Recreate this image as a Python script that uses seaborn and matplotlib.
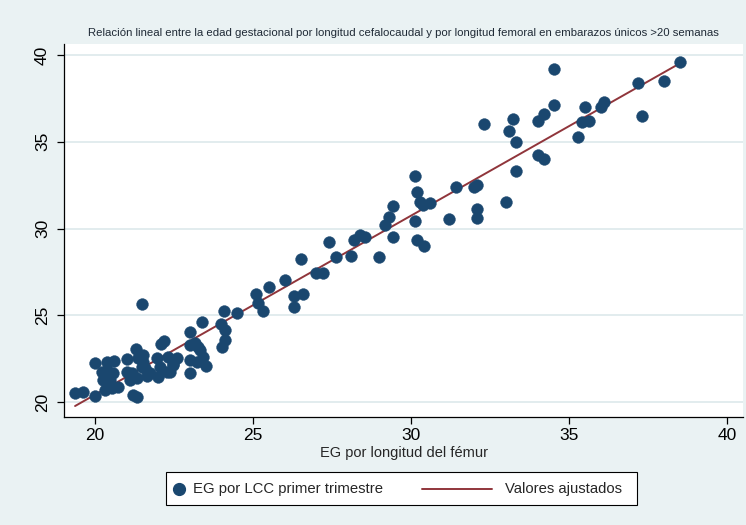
import numpy as np
import pandas as pd
import seaborn as sns
import matplotlib
matplotlib.use("Agg")
import matplotlib.pyplot as plt
from matplotlib.patches import Rectangle
from matplotlib.lines import Line2D

# Gestational age by femur length (x) vs. by crown-rump length (y), weeks
eg_femur = [
    19.37, 19.61, 20.00, 20.32, 20.53, 20.74, 20.26, 20.21, 20.47, 20.58,
    20.37, 20.00, 20.37, 20.60, 21.00, 21.37, 21.53, 21.58, 21.00, 21.11,
    21.32, 21.64, 21.16, 21.48, 21.74, 22.00, 22.06, 22.27, 22.48, 22.58,
    22.32, 21.95, 21.53, 21.31, 22.08, 22.18, 21.50, 21.19, 21.34,
    23.00, 23.40, 23.00, 23.16, 23.27, 23.32, 23.00, 23.22, 23.43, 23.51,
    23.00, 22.48, 22.37, 23.98, 24.11, 24.11, 24.01, 24.09, 24.50,
    25.09, 25.17, 25.30, 25.52,
    26.01, 26.30, 26.59, 26.30, 26.51, 26.99, 27.20, 27.41, 27.61, 28.10,
    28.20, 28.39, 28.54, 29.00, 29.18, 29.31, 29.42, 29.42, 30.11, 30.18,
    30.11, 30.28, 30.37, 30.60, 30.20, 30.41,
    34.51, 34.51, 34.21, 34.01, 33.22, 32.31, 33.11, 33.31, 34.01, 34.21,
    33.31, 31.41, 31.99, 32.10, 32.10, 32.10, 31.20, 33.00,
    35.51, 36.11, 36.00, 35.40, 35.63, 35.29, 37.19, 38.01, 38.51, 37.30,
]
eg_lcc = [
    20.54, 20.59, 20.35, 20.69, 20.79, 20.88, 21.27, 21.75, 21.27, 21.65,
    21.84, 22.27, 22.32, 22.38, 22.46, 22.52, 22.32, 21.94, 21.75, 21.27,
    21.36, 21.50, 21.65, 22.03, 21.65, 21.46, 22.03, 21.75, 22.13, 22.52,
    22.61, 22.52, 22.71, 23.05, 23.34, 23.53, 25.65, 20.40, 20.27,
    24.05, 24.63, 23.29, 23.38, 23.19, 23.00, 22.42, 22.32, 22.61, 22.07,
    21.69, 22.19, 21.75, 24.48, 24.15, 23.57, 23.15, 25.26, 25.15,
    26.22, 25.69, 25.26, 26.65,
    27.03, 26.13, 26.22, 25.49, 28.24, 27.45, 27.45, 29.24, 28.34, 28.43,
    29.34, 29.63, 29.53, 28.34, 30.20, 30.65, 31.31, 29.53, 33.03, 32.12,
    30.43, 31.54, 31.35, 31.45, 29.34, 29.01,
    39.19, 37.12, 36.60, 36.21, 36.29, 36.02, 35.62, 35.00, 34.22, 34.01,
    33.31, 32.41, 32.41, 32.51, 31.12, 30.62, 30.53, 31.51,
    36.98, 37.31, 36.98, 36.12, 36.20, 35.29, 38.40, 38.50, 39.58, 36.50,
]

x_ticks = [20, 25, 30, 35, 40]
y_ticks = [20, 25, 30, 35, 40]

title = ("Relación lineal entre la edad gestacional por longitud cefalocaudal "
         "y por longitud femoral en embarazos únicos >20 semanas")
x_label = "EG por longitud del fémur"
scatter_label = "EG por LCC primer trimestre"
fit_label = "Valores ajustados"

df = pd.DataFrame({"femur": eg_femur, "lcc": eg_lcc})

BG = "#EAF2F3"
GRID = "#E2ECEE"
NAVY = "#1A476F"
MAROON = "#90353B"

sns.set_theme(style="white")
plt.rcParams["font.family"] = ["Liberation Sans", "DejaVu Sans"]

W, H = 746, 525
fig = plt.figure(figsize=(W / 100, H / 100), dpi=100, facecolor=BG)
ax = fig.add_axes([64 / W, 1 - 417 / H, (743 - 64) / W, (417 - 44) / H])
ax.set_facecolor("white")

ax.set_xlim(19.02, 40.50)
ax.set_ylim(19.14, 40.63)

for yv in y_ticks:
    ax.axhline(yv, color=GRID, lw=1.4, zorder=0)

sns.regplot(data=df, x="femur", y="lcc", scatter=False, ci=None,
            truncate=True, color=MAROON, line_kws={"lw": 1.4, "zorder": 2},
            ax=ax)
sns.scatterplot(data=df, x="femur", y="lcc", color=NAVY, s=72,
                edgecolor=NAVY, linewidth=0.3, zorder=3, ax=ax, legend=False)

ax.set_xticks(x_ticks)
ax.set_yticks(y_ticks)
ax.set_xticklabels([str(v) for v in x_ticks], fontsize=12.5)
ax.set_yticklabels([str(v) for v in y_ticks], fontsize=12.5, rotation=90,
                   va="center")
ax.tick_params(axis="both", direction="out", length=5, width=0.9,
               color="black", labelcolor="black", bottom=True, left=True)
ax.tick_params(axis="y", pad=5)
ax.tick_params(axis="x", pad=3)
ax.set_xlabel(x_label, fontsize=10.5, labelpad=2)
ax.set_ylabel("")

for side in ("top", "right"):
    ax.spines[side].set_visible(False)
for side in ("left", "bottom"):
    ax.spines[side].set_color("black")
    ax.spines[side].set_linewidth(0.9)

fig.text(403 / W, 1 - 33 / H, title, ha="center", va="center",
         fontsize=8.2, color="#1F2A36")

# Legend box
lx0, lx1, ly0, ly1 = 166, 637, 472, 505
fig.patches.append(Rectangle((lx0 / W, 1 - ly1 / H), (lx1 - lx0) / W,
                             (ly1 - ly0) / H, transform=fig.transFigure,
                             facecolor="white", edgecolor="black", lw=0.8))
ly = 1 - 489 / H
fig.lines.append(Line2D([179 / W], [ly], transform=fig.transFigure,
                        marker="o", ms=8.5, color=NAVY, lw=0))
fig.text(193 / W, ly, scatter_label, ha="left", va="center", fontsize=10.7)
fig.lines.append(Line2D([422 / W, 492 / W], [ly, ly],
                        transform=fig.transFigure, color=MAROON, lw=1.4))
fig.text(505 / W, ly, fit_label, ha="left", va="center", fontsize=10.7)

fig.savefig("out.png", dpi=100, facecolor=BG)
